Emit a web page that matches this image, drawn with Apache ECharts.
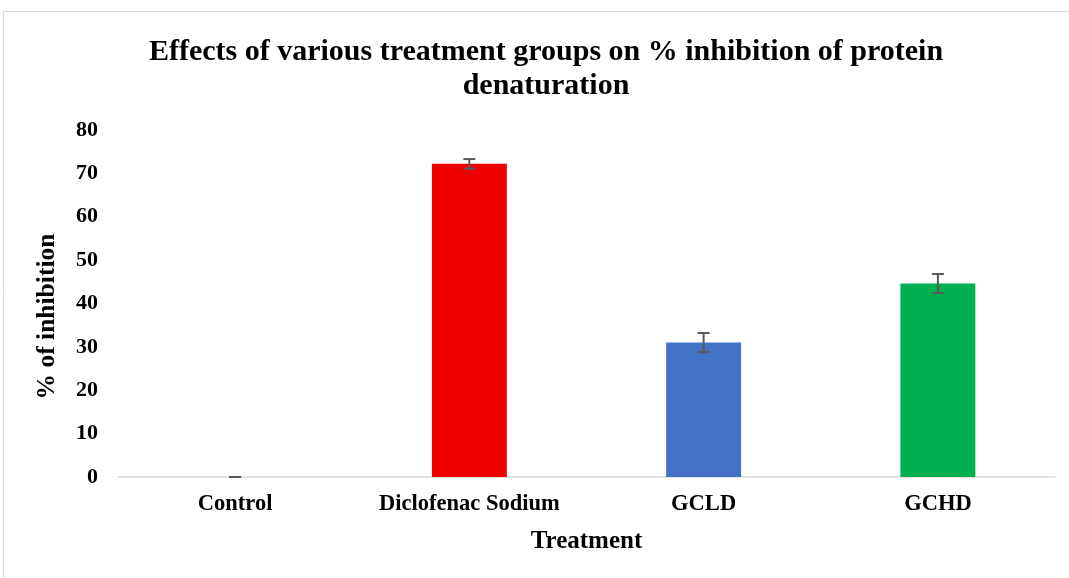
<!DOCTYPE html>
<html>
<head>
<meta charset="utf-8">
<script src="https://cdn.jsdelivr.net/npm/echarts@6/dist/echarts.min.js"></script>
<style>
  html, body { margin: 0; padding: 0; background: #fff; }
  #chart { width: 1069px; height: 578px; }
</style>
</head>
<body>
<div id="chart"></div>
<script>
// 数据
const categories = ['Control', 'Diclofenac Sodium', 'GCLD', 'GCHD'];
const inhibition = [0, 72.2, 31.0, 44.6];
const errors = [0, 1.1, 2.2, 2.2];
const barColors = ['#a5a5a5', '#ee0000', '#4472c4', '#00b050'];
const yTicks = [0, 10, 20, 30, 40, 50, 60, 70, 80];

const chart = echarts.init(document.getElementById('chart'));
const fontFamily = '"Liberation Serif", "Times New Roman", serif';

const option = {
  backgroundColor: '#fff',
  animation: false,
  title: {
    text: 'Effects of various treatment groups on % inhibition of protein\ndenaturation',
    left: 541,
    textAlign: 'center',
    top: 30,
    textStyle: {
      fontFamily: fontFamily,
      fontWeight: 'bold',
      fontSize: 30,
      lineHeight: 34,
      color: '#000'
    }
  },
  // 外框
  graphic: [{
    type: 'rect',
    shape: { x: 3.5, y: 11.5, width: 1100, height: 600 },
    style: { fill: 'none', stroke: '#d9d9d9', lineWidth: 1 },
    silent: true
  }],
  grid: { left: 118, right: 14, top: 130, bottom: 101 },
  xAxis: {
    type: 'category',
    data: categories,
    name: 'Treatment',
    nameLocation: 'middle',
    nameGap: 52,
    nameTextStyle: { fontFamily: fontFamily, fontWeight: 'bold', fontSize: 25, color: '#000' },
    axisLine: { lineStyle: { color: '#d9d9d9', width: 1.5 } },
    axisTick: { show: false },
    axisLabel: { interval: 0, fontFamily: fontFamily, fontWeight: 'bold', fontSize: 22.5, color: '#000', margin: 16 }
  },
  yAxis: {
    type: 'value',
    min: 0,
    max: 80,
    interval: 10,
    name: '% of inhibition',
    nameLocation: 'middle',
    nameGap: 58,
    nameTextStyle: {
      fontFamily: fontFamily, fontWeight: 'bold', fontSize: 25.5, color: '#000',
      padding: [0, 26, 0, 0] // 稍微往下移
    },
    axisLine: { show: false },
    axisTick: { show: false },
    splitLine: { show: false },
    axisLabel: {
      fontFamily: fontFamily, fontWeight: 'bold', fontSize: 22, color: '#000', margin: 20,
      formatter: v => (yTicks.includes(v) ? String(v) : '')
    }
  },
  series: [
    {
      type: 'bar',
      barWidth: '32%',
      data: inhibition.map((v, i) => ({ value: v, itemStyle: { color: barColors[i] } }))
    },
    {
      // 误差线
      type: 'custom',
      z: 5,
      data: inhibition.map((v, i) => [i, v - errors[i], v + errors[i]]),
      renderItem: (params, api) => {
        const lo = api.coord([api.value(0), api.value(1)]);
        const hi = api.coord([api.value(0), api.value(2)]);
        const half = 6;
        const style = { stroke: '#595959', lineWidth: 2 };
        return {
          type: 'group',
          children: [
            { type: 'line', shape: { x1: lo[0], y1: lo[1], x2: hi[0], y2: hi[1] }, style },
            { type: 'line', shape: { x1: lo[0] - half, y1: lo[1], x2: lo[0] + half, y2: lo[1] }, style },
            { type: 'line', shape: { x1: hi[0] - half, y1: hi[1], x2: hi[0] + half, y2: hi[1] }, style }
          ]
        };
      }
    }
  ]
};

chart.setOption(option);
window.addEventListener('resize', () => chart.resize());
</script>
</body>
</html>
